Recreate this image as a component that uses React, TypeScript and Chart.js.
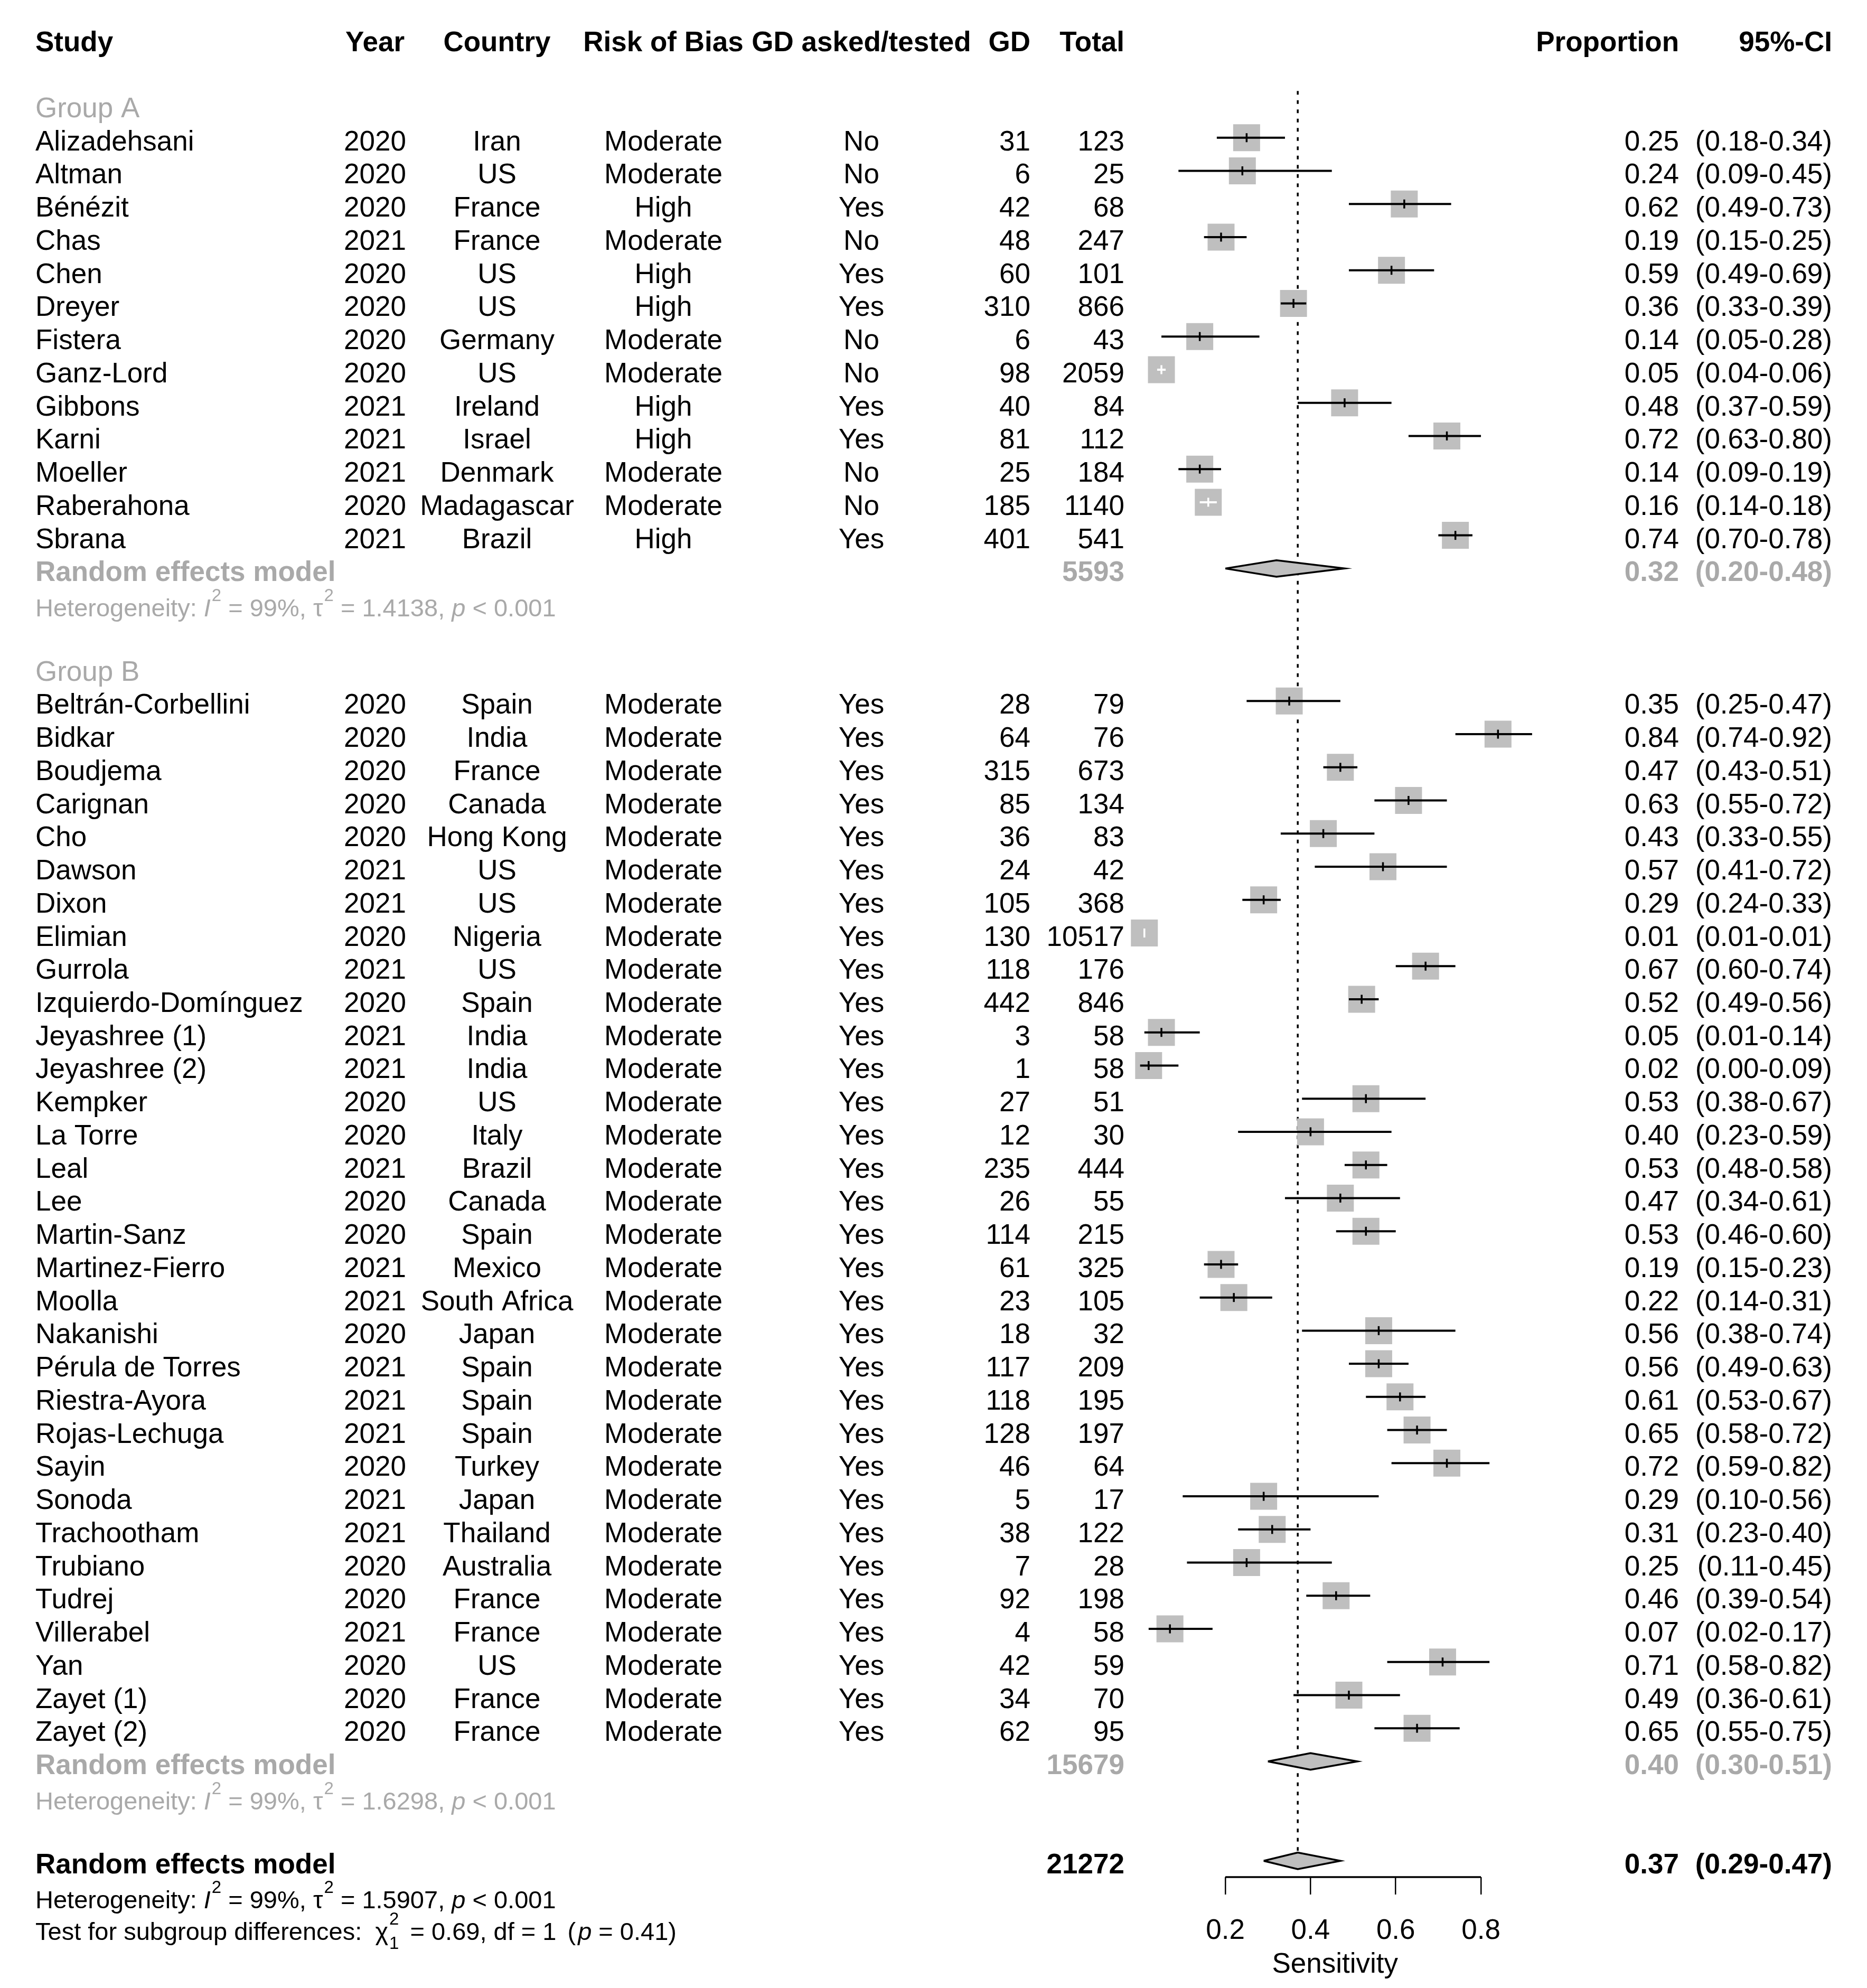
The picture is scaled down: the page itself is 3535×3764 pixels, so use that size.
import React, { useEffect, useRef } from "react";
import { Chart, registerables } from "chart.js";

Chart.register(...registerables);

// ---------------- data ----------------
const STUDY = [
  "Alizadehsani", "Altman", "Bénézit", "Chas", "Chen", "Dreyer", "Fistera", "Ganz-Lord", "Gibbons", "Karni", "Moeller", "Raberahona", "Sbrana",
  "Beltrán-Corbellini", "Bidkar", "Boudjema", "Carignan", "Cho", "Dawson", "Dixon", "Elimian", "Gurrola", "Izquierdo-Domínguez",
  "Jeyashree (1)", "Jeyashree (2)", "Kempker", "La Torre", "Leal", "Lee", "Martin-Sanz", "Martinez-Fierro", "Moolla", "Nakanishi",
  "Pérula de Torres", "Riestra-Ayora", "Rojas-Lechuga", "Sayin", "Sonoda", "Trachootham", "Trubiano", "Tudrej", "Villerabel", "Yan",
  "Zayet (1)", "Zayet (2)",
];
const YEAR = [
  2020, 2020, 2020, 2021, 2020, 2020, 2020, 2020, 2021, 2021, 2021, 2020, 2021,
  2020, 2020, 2020, 2020, 2020, 2021, 2021, 2020, 2021, 2020, 2021, 2021, 2020, 2020, 2021, 2020, 2020, 2021, 2021, 2020,
  2021, 2021, 2021, 2020, 2021, 2021, 2020, 2020, 2021, 2020, 2020, 2020,
];
const COUNTRY = [
  "Iran", "US", "France", "France", "US", "US", "Germany", "US", "Ireland", "Israel", "Denmark", "Madagascar", "Brazil",
  "Spain", "India", "France", "Canada", "Hong Kong", "US", "US", "Nigeria", "US", "Spain", "India", "India", "US", "Italy",
  "Brazil", "Canada", "Spain", "Mexico", "South Africa", "Japan", "Spain", "Spain", "Spain", "Turkey", "Japan", "Thailand",
  "Australia", "France", "France", "US", "France", "France",
];
const RISK_OF_BIAS = [
  "Moderate", "Moderate", "High", "Moderate", "High", "High", "Moderate", "Moderate", "High", "High", "Moderate", "Moderate", "High",
  ...Array(32).fill("Moderate"),
];
const GD_ASKED = [
  "No", "No", "Yes", "No", "Yes", "Yes", "No", "No", "Yes", "Yes", "No", "No", "Yes",
  ...Array(32).fill("Yes"),
];
const GD = [
  31, 6, 42, 48, 60, 310, 6, 98, 40, 81, 25, 185, 401,
  28, 64, 315, 85, 36, 24, 105, 130, 118, 442, 3, 1, 27, 12, 235, 26, 114, 61, 23, 18, 117, 118, 128, 46, 5, 38, 7, 92, 4, 42, 34, 62,
];
const TOTAL = [
  123, 25, 68, 247, 101, 866, 43, 2059, 84, 112, 184, 1140, 541,
  79, 76, 673, 134, 83, 42, 368, 10517, 176, 846, 58, 58, 51, 30, 444, 55, 215, 325, 105, 32, 209, 195, 197, 64, 17, 122, 28, 198, 58, 59, 70, 95,
];
const PROP = [
  0.25, 0.24, 0.62, 0.19, 0.59, 0.36, 0.14, 0.05, 0.48, 0.72, 0.14, 0.16, 0.74,
  0.35, 0.84, 0.47, 0.63, 0.43, 0.57, 0.29, 0.01, 0.67, 0.52, 0.05, 0.02, 0.53, 0.40, 0.53, 0.47, 0.53, 0.19, 0.22, 0.56,
  0.56, 0.61, 0.65, 0.72, 0.29, 0.31, 0.25, 0.46, 0.07, 0.71, 0.49, 0.65,
];
const CI_LO = [
  0.18, 0.09, 0.49, 0.15, 0.49, 0.33, 0.05, 0.04, 0.37, 0.63, 0.09, 0.14, 0.70,
  0.25, 0.74, 0.43, 0.55, 0.33, 0.41, 0.24, 0.01, 0.60, 0.49, 0.01, 0.00, 0.38, 0.23, 0.48, 0.34, 0.46, 0.15, 0.14, 0.38,
  0.49, 0.53, 0.58, 0.59, 0.10, 0.23, 0.11, 0.39, 0.02, 0.58, 0.36, 0.55,
];
const CI_HI = [
  0.34, 0.45, 0.73, 0.25, 0.69, 0.39, 0.28, 0.06, 0.59, 0.80, 0.19, 0.18, 0.78,
  0.47, 0.92, 0.51, 0.72, 0.55, 0.72, 0.33, 0.01, 0.74, 0.56, 0.14, 0.09, 0.67, 0.59, 0.58, 0.61, 0.60, 0.23, 0.31, 0.74,
  0.63, 0.67, 0.72, 0.82, 0.56, 0.40, 0.45, 0.54, 0.17, 0.82, 0.61, 0.75,
];

const GROUP_LABEL = ["Group A", "Group B"];
const GROUP_SIZE = [13, 32];
const GROUP_TOTAL = [5593, 15679];
const GROUP_EST = [0.32, 0.40];
const GROUP_LO = [0.20, 0.30];
const GROUP_HI = [0.48, 0.51];
const GROUP_I2 = ["99%", "99%"];
const GROUP_TAU2 = ["1.4138", "1.6298"];
const GROUP_P = ["< 0.001", "< 0.001"];

const OVERALL_TOTAL = 21272;
const OVERALL_EST = 0.37;
const OVERALL_LO = 0.29;
const OVERALL_HI = 0.47;
const OVERALL_I2 = "99%";
const OVERALL_TAU2 = "1.5907";
const OVERALL_P = "< 0.001";
const SUBGROUP_CHI2 = "0.69";
const SUBGROUP_DF = "1";
const SUBGROUP_P = "0.41";

const HEADERS = ["Study", "Year", "Country", "Risk of Bias", "GD asked/tested", "GD", "Total", "Proportion", "95%-CI"];
const X_TICKS = [0.2, 0.4, 0.6, 0.8];
const X_TITLE = "Sensitivity";

// ---------------- layout ----------------
const W = 3535;
const H = 3764;
const ROW_PX = 62.74;
const ROW0_PX = 198;
const X0_PX = 2158.7;
const X_UNIT_PX = 806.7;
const X_MAX = 0.915;
const AXIS_PX = 3554;
const Y_MIN = -ROW0_PX / ROW_PX;
const Y_MAX = (AXIS_PX - ROW0_PX) / ROW_PX;
const FONT = "'Liberation Sans', Arial, Helvetica, sans-serif";
const GRAY = "#a9a9a9";
const BOX = "#bfbfbf";
const FS = 53;
const FS_HET = 47;
const BOX_SIDE = 51;
const COL = {
  study: 67, year: 710, country: 941, rob: 1256, asked: 1631, gd: 1951, total: 2129, prop: 3179, ci: 3469,
};

// rows
type StudyRow = { i: number; row: number };
const studyRows: StudyRow[] = [];
const groupRows: { label: number; re: number; het: number }[] = [];
let r = 0;
let idx = 0;
GROUP_SIZE.forEach((n) => {
  const label = r;
  for (let k = 0; k < n; k++) studyRows.push({ i: idx++, row: r + 1 + k });
  groupRows.push({ label, re: r + n + 1, het: r + n + 2 });
  r += n + 4;
});
const OVERALL_ROW = r;
const HEADER_ROW = -2;
const DIAMOND_H = 0.25;

const fmt = (v: number) => v.toFixed(2);

type Run = { t?: string; it?: boolean; sup?: string; sub?: string; gap?: number };
const hetRuns = (i2: string, tau2: string, p: string): Run[] => [
  { t: "Heterogeneity: " }, { t: "I", it: true }, { sup: "2" }, { t: " = " + i2 + ", " },
  { t: "τ" }, { sup: "2" }, { t: " = " + tau2 + ", " }, { t: "p", it: true }, { t: " " + p },
];
const testRuns: Run[] = [
  { t: "Test for subgroup differences: " }, { gap: 12 }, { t: "χ" }, { sup: "2", sub: SUBGROUP_DF }, { gap: 8 },
  { t: " = " + SUBGROUP_CHI2 + ", df = " + SUBGROUP_DF + " " }, { gap: 8 }, { t: "(" }, { gap: 4 }, { t: "p", it: true },
  { t: " = " + SUBGROUP_P + ")" },
];

function drawRich(ctx: CanvasRenderingContext2D, runs: Run[], x: number, y: number, size: number, color: string) {
  let cx = x;
  ctx.textAlign = "left";
  ctx.textBaseline = "alphabetic";
  ctx.fillStyle = color;
  const supSize = Math.round(size * 0.7);
  for (const run of runs) {
    if (run.gap) {
      cx += run.gap;
    } else if (run.sup || run.sub) {
      ctx.font = `${supSize}px ${FONT}`;
      let w = 0;
      if (run.sup) { ctx.fillText(run.sup, cx + 2, y - 29); w = Math.max(w, ctx.measureText(run.sup).width + 2); }
      if (run.sub) { ctx.fillText(run.sub, cx + 2, y + 17); w = Math.max(w, ctx.measureText(run.sub).width + 2); }
      cx += w;
    } else if (run.t) {
      ctx.font = `${run.it ? "italic " : ""}${size}px ${FONT}`;
      ctx.fillText(run.t, cx, y);
      cx += ctx.measureText(run.t).width;
    }
  }
}

const textPlugin = {
  id: "forestText",
  afterDraw(chart: any) {
    const ctx: CanvasRenderingContext2D = chart.ctx;
    const ys = chart.scales.y;
    const base = (row: number) => ys.getPixelForValue(row) + 24;
    const put = (s: string, x: number, y: number, align: CanvasTextAlign, bold: boolean, color: string, size = FS) => {
      ctx.font = `${bold ? "bold " : ""}${size}px ${FONT}`;
      ctx.fillStyle = color;
      ctx.textAlign = align;
      ctx.textBaseline = "alphabetic";
      ctx.fillText(s, x, y);
    };
    ctx.save();
    // header
    const hy = base(HEADER_ROW);
    put(HEADERS[0], COL.study, hy, "left", true, "#000");
    put(HEADERS[1], COL.year, hy, "center", true, "#000");
    put(HEADERS[2], COL.country, hy, "center", true, "#000");
    put(HEADERS[3], COL.rob, hy, "center", true, "#000");
    put(HEADERS[4], COL.asked, hy, "center", true, "#000");
    put(HEADERS[5], COL.gd, hy, "right", true, "#000");
    put(HEADERS[6], COL.total, hy, "right", true, "#000");
    put(HEADERS[7], COL.prop, hy, "right", true, "#000");
    put(HEADERS[8], COL.ci, hy, "right", true, "#000");
    // studies
    studyRows.forEach(({ i, row }) => {
      const y = base(row);
      put(STUDY[i], COL.study, y, "left", false, "#000");
      put(String(YEAR[i]), COL.year, y, "center", false, "#000");
      put(COUNTRY[i], COL.country, y, "center", false, "#000");
      put(RISK_OF_BIAS[i], COL.rob, y, "center", false, "#000");
      put(GD_ASKED[i], COL.asked, y, "center", false, "#000");
      put(String(GD[i]), COL.gd, y, "right", false, "#000");
      put(String(TOTAL[i]), COL.total, y, "right", false, "#000");
      put(fmt(PROP[i]), COL.prop, y, "right", false, "#000");
      put(`(${fmt(CI_LO[i])}-${fmt(CI_HI[i])})`, COL.ci, y, "right", false, "#000");
    });
    // groups
    groupRows.forEach((g, k) => {
      put(GROUP_LABEL[k], COL.study, base(g.label), "left", false, GRAY);
      const y = base(g.re);
      put("Random effects model", COL.study, y, "left", true, GRAY);
      put(String(GROUP_TOTAL[k]), COL.total, y, "right", true, GRAY);
      put(fmt(GROUP_EST[k]), COL.prop, y, "right", true, GRAY);
      put(`(${fmt(GROUP_LO[k])}-${fmt(GROUP_HI[k])})`, COL.ci, y, "right", true, GRAY);
      drawRich(ctx, hetRuns(GROUP_I2[k], GROUP_TAU2[k], GROUP_P[k]), COL.study, ys.getPixelForValue(g.het) + 28, FS_HET, GRAY);
    });
    // overall
    const oy = base(OVERALL_ROW);
    put("Random effects model", COL.study, oy, "left", true, "#000");
    put(String(OVERALL_TOTAL), COL.total, oy, "right", true, "#000");
    put(fmt(OVERALL_EST), COL.prop, oy, "right", true, "#000");
    put(`(${fmt(OVERALL_LO)}-${fmt(OVERALL_HI)})`, COL.ci, oy, "right", true, "#000");
    drawRich(ctx, hetRuns(OVERALL_I2, OVERALL_TAU2, OVERALL_P), COL.study, ys.getPixelForValue(OVERALL_ROW + 1) + 27, FS_HET, "#000");
    drawRich(ctx, testRuns, COL.study, ys.getPixelForValue(OVERALL_ROW + 2) + 24, FS_HET, "#000");
    ctx.restore();
  },
};

function buildConfig(): any {
  const inside = (i: number) => CI_HI[i] - CI_LO[i] < 0.05;
  const ciData = (white: boolean) => {
    const d: any[] = [];
    studyRows.forEach(({ i, row }) => {
      if (inside(i) !== white) return;
      d.push({ x: CI_LO[i], y: row }, { x: CI_HI[i], y: row }, { x: (CI_LO[i] + CI_HI[i]) / 2, y: null });
    });
    return d;
  };
  const estData = (white: boolean) =>
    studyRows.filter(({ i }) => inside(i) === white).map(({ i, row }) => ({ x: PROP[i], y: row }));
  const diamond = (lo: number, est: number, hi: number, row: number) => ({
    type: "line",
    data: [
      { x: lo, y: row }, { x: est, y: row - DIAMOND_H }, { x: hi, y: row }, { x: est, y: row + DIAMOND_H }, { x: lo, y: row },
    ],
    borderColor: "#000",
    borderWidth: 3.5,
    borderJoinStyle: "miter",
    backgroundColor: BOX,
    fill: "shape",
    pointRadius: 0,
    tension: 0,
    clip: false,
    order: 1,
  });

  const datasets: any[] = [
    {
      type: "line",
      data: [{ x: OVERALL_EST, y: -0.41 }, { x: OVERALL_EST, y: OVERALL_ROW - DIAMOND_H }],
      borderColor: "#000",
      borderWidth: 3.5,
      borderDash: [7, 10.5],
      pointRadius: 0,
      fill: false,
      order: 10,
    },
    {
      type: "scatter",
      data: studyRows.map(({ i, row }) => ({ x: PROP[i], y: row })),
      pointStyle: "rect",
      pointRadius: (BOX_SIDE / 2) * Math.SQRT2,
      backgroundColor: BOX,
      borderWidth: 0,
      clip: false,
      order: 5,
    },
    {
      type: "line",
      data: ciData(false),
      borderColor: "#000",
      borderWidth: 4,
      pointRadius: 0,
      spanGaps: false,
      fill: false,
      clip: false,
      order: 3,
    },
    {
      type: "line",
      data: ciData(true),
      borderColor: "#fff",
      borderWidth: 4,
      pointRadius: 0,
      spanGaps: false,
      fill: false,
      clip: false,
      order: 3,
    },
    {
      type: "scatter",
      data: estData(false),
      pointStyle: "line",
      rotation: 90,
      pointRadius: 8.5,
      borderColor: "#000",
      borderWidth: 3.5,
      clip: false,
      order: 2,
    },
    {
      type: "scatter",
      data: estData(true),
      pointStyle: "line",
      rotation: 90,
      pointRadius: 8.5,
      borderColor: "#fff",
      borderWidth: 3.5,
      clip: false,
      order: 2,
    },
    ...groupRows.map((g, k) => diamond(GROUP_LO[k], GROUP_EST[k], GROUP_HI[k], g.re)),
    diamond(OVERALL_LO, OVERALL_EST, OVERALL_HI, OVERALL_ROW),
    {
      type: "line",
      data: [{ x: X_TICKS[0], y: Y_MAX }, { x: X_TICKS[X_TICKS.length - 1], y: Y_MAX }],
      borderColor: "#000",
      borderWidth: 3.7,
      pointRadius: 0,
      fill: false,
      clip: false,
      order: 0,
    },
  ];

  return {
    type: "scatter",
    data: { datasets },
    options: {
      responsive: false,
      animation: false,
      devicePixelRatio: 1,
      events: [],
      layout: {
        autoPadding: false,
        padding: { left: X0_PX, right: W - X0_PX - X_MAX * X_UNIT_PX, top: 0, bottom: 0 },
      },
      plugins: { legend: { display: false }, tooltip: { enabled: false }, title: { display: false } },
      scales: {
        x: {
          type: "linear",
          min: 0,
          max: X_MAX,
          position: "bottom",
          afterBuildTicks: (scale: any) => {
            scale.ticks = X_TICKS.map((v) => ({ value: v }));
          },
          afterFit: (scale: any) => {
            scale.height = H - AXIS_PX;
          },
          border: { display: false },
          grid: {
            display: true,
            drawOnChartArea: false,
            drawTicks: true,
            tickLength: 33,
            color: "#000",
            lineWidth: 2.5,
          },
          ticks: {
            font: { family: FONT, size: FS },
            color: "#000",
            padding: 38,
            maxRotation: 0,
            autoSkip: false,
            callback: (v: any) => Number(v).toFixed(1),
          },
          title: {
            display: true,
            text: X_TITLE,
            color: "#000",
            font: { family: FONT, size: FS },
            padding: { top: 0, bottom: 12 },
          },
        },
        y: {
          type: "linear",
          display: false,
          min: Y_MIN,
          max: Y_MAX,
          reverse: true,
        },
      },
    },
    plugins: [textPlugin],
  };
}

export default function App() {
  const ref = useRef<HTMLCanvasElement>(null);
  useEffect(() => {
    const canvas = ref.current;
    if (!canvas) return;
    const chart = new Chart(canvas, buildConfig());
    return () => chart.destroy();
  }, []);
  return (
    <div style={{ position: "absolute", left: 0, top: 0, width: W, height: H, background: "#fff" }}>
      <canvas ref={ref} width={W} height={H} style={{ width: W, height: H, display: "block" }} />
    </div>
  );
}
